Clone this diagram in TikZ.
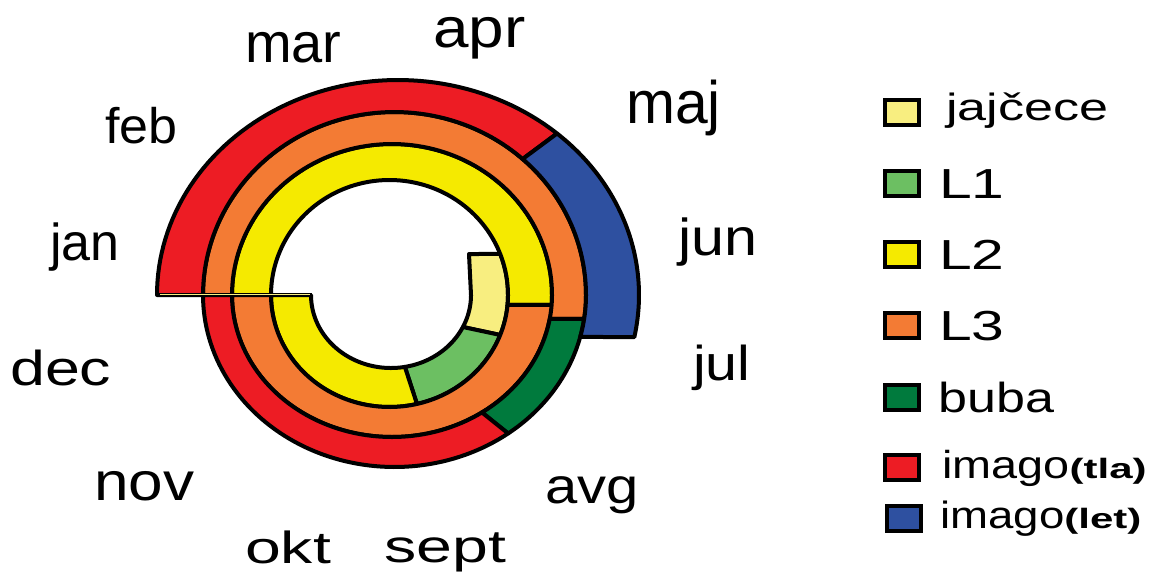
\documentclass[tikz,border=0pt]{standalone}
\usepackage{fontspec}
\setmainfont{Liberation Sans}
\definecolor{cred}{RGB}{237,28,36}
\definecolor{corange}{RGB}{243,123,52}
\definecolor{cyellow}{RGB}{245,234,0}
\definecolor{cegg}{RGB}{248,238,128}
\definecolor{clone}{RGB}{108,191,98}
\definecolor{cbuba}{RGB}{0,122,61}
\definecolor{cblue}{RGB}{46,80,160}
\newcommand{\lbl}[3]{{\fontsize{#1}{#1}\selectfont\scalebox{#2}[1]{#3}}}
\begin{document}
\begin{tikzpicture}[x=1pt,y=-1pt,
  band/.style={draw=black,line width=4,line join=round},
  lab/.style={anchor=base west,inner sep=0pt},
  legbox/.style={draw=black,line width=4,minimum width=34pt,minimum height=25pt,inner sep=0pt}]
\useasboundingbox[fill=white] (0,0) rectangle (1158,571);
% spiral bands
% E0: 391,80,73  E1: 389.5,118.5,115/112  E2: 392,160,151/142  E3: 394.5,191.5,183/172  E4: 398,241,215
\filldraw[band,fill=cegg]
  plot[domain=-26:0,samples=30]({391+80*cos(\x)},{295-73*sin(\x)})
  -- (469,254)
  -- plot[domain=20.9:0,samples=30]({389.5+118.5*cos(\x)},{295-115*sin(\x)})
  -- plot[domain=0:-20.9,samples=30]({389.5+118.5*cos(\x)},{295-112*sin(\x)})
  -- cycle;
\filldraw[band,fill=clone]
  plot[domain=-26:-80,samples=40]({391+80*cos(\x)},{295-73*sin(\x)})
  -- plot[domain=-76.6:-20.9,samples=40]({389.5+118.5*cos(\x)},{295-112*sin(\x)})
  -- cycle;
\filldraw[band,fill=cyellow]
  plot[domain=-80:-180,samples=60]({391+80*cos(\x)},{295-73*sin(\x)})
  -- plot[domain=180:0,samples=90]({389.5+118.5*cos(\x)},{295-115*sin(\x)})
  -- plot[domain=0:-5.1,samples=10]({389.5+118.5*cos(\x)},{295-112*sin(\x)})
  -- plot[domain=-4:0,samples=10]({392+160*cos(\x)},{295-142*sin(\x)})
  -- plot[domain=0:180,samples=90]({392+160*cos(\x)},{295-151*sin(\x)})
  -- plot[domain=-180:-76.6,samples=60]({389.5+118.5*cos(\x)},{295-112*sin(\x)})
  -- cycle;
\filldraw[band,fill=corange]
  plot[domain=-5.1:-180,samples=90]({389.5+118.5*cos(\x)},{295-112*sin(\x)})
  -- plot[domain=180:0,samples=90]({392+160*cos(\x)},{295-151*sin(\x)})
  -- plot[domain=0:-9.7,samples=10]({392+160*cos(\x)},{295-142*sin(\x)})
  -- plot[domain=-8:0,samples=10]({394.5+191.5*cos(\x)},{295-172*sin(\x)})
  -- plot[domain=0:180,samples=90]({394.5+191.5*cos(\x)},{295-183*sin(\x)})
  -- plot[domain=-180:-4,samples=90]({392+160*cos(\x)},{295-142*sin(\x)})
  -- cycle;
\filldraw[band,fill=cbuba]
  plot[domain=-9.7:-55.8,samples=40]({392+160*cos(\x)},{295-142*sin(\x)})
  -- plot[domain=-53.6:-8,samples=40]({394.5+191.5*cos(\x)},{295-172*sin(\x)})
  -- cycle;
\filldraw[band,fill=cred]
  plot[domain=-55.8:-180,samples=70]({392+160*cos(\x)},{295-142*sin(\x)})
  -- plot[domain=180:48,samples=70]({394.5+191.5*cos(\x)},{295-183*sin(\x)})
  -- plot[domain=48.7:180,samples=70]({398+241*cos(\x)},{295-215*sin(\x)})
  -- plot[domain=-180:-53.6,samples=70]({394.5+191.5*cos(\x)},{295-172*sin(\x)})
  -- cycle;
\filldraw[band,fill=cblue]
  plot[domain=48:0,samples=40]({394.5+191.5*cos(\x)},{295-183*sin(\x)})
  -- plot[domain=0:-14.1,samples=15]({394.5+191.5*cos(\x)},{295-172*sin(\x)})
  -- plot[domain=-11.3:48.7,samples=50]({398+241*cos(\x)},{295-215*sin(\x)})
  -- cycle;
\draw[line width=4] (157,295) -- (312,295);
\draw[cegg,line width=1.2] (160,294.5) -- (310,294.5);
% month labels
\node[lab] (mar) at (245,62) {\lbl{56}{1.0}{mar}};
\node[lab] (apr) at (433,47) {\lbl{56}{1.14}{apr}};
\node[lab] (feb) at (105,143) {\lbl{50}{1.04}{feb}};
\node[lab] (maj) at (626,123) {\lbl{60}{0.98}{maj}};
\node[lab] (jun) at (678,255) {\lbl{52}{1.14}{jun}};
\node[lab] (jul) at (693,380) {\lbl{49}{1.17}{jul}};
\node[lab] (jan) at (50,260) {\lbl{52}{1.0}{jan}};
\node[lab] (dec) at (10,385) {\lbl{49}{1.28}{dec}};
\node[lab] (nov) at (94,500) {\lbl{54}{1.15}{nov}};
\node[lab] (okt) at (245,563) {\lbl{45}{1.43}{okt}};
\node[lab] (sept) at (384,562) {\lbl{46}{1.4}{sept}};
\node[lab] (avg) at (545,503) {\lbl{50}{1.16}{avg}};
% legend
\node[legbox,fill=cegg] (k1) at (902,112.5) {};
\node[legbox,fill=clone] (k2) at (902,183) {};
\node[legbox,fill=cyellow] (k3) at (902,254) {};
\node[legbox,fill=corange] (k4) at (902,325.5) {};
\node[legbox,fill=cbuba] (k5) at (902,397) {};
\node[legbox,fill=cred] (k6) at (902,467) {};
\node[legbox,fill=cblue] (k7) at (904,518) {};
\node[lab] (t1) at (946,120) {\lbl{38}{1.37}{jajčece}};
\node[lab] (t2) at (939,198) {\lbl{42}{1.4}{L1}};
\node[lab] (t3) at (939,269) {\lbl{42}{1.4}{L2}};
\node[lab] (t4) at (939,340) {\lbl{42}{1.4}{L3}};
\node[lab] (t5) at (938,412) {\lbl{42}{1.24}{buba}};
\node[lab] (t6) at (942,478) {\lbl{39}{1.2}{imago}\lbl{28}{1.5}{\bfseries(tla)}};
\node[lab] (t7) at (940,528) {\lbl{38}{1.2}{imago}\lbl{28}{1.5}{\bfseries(let)}};
\end{tikzpicture}
\end{document}
